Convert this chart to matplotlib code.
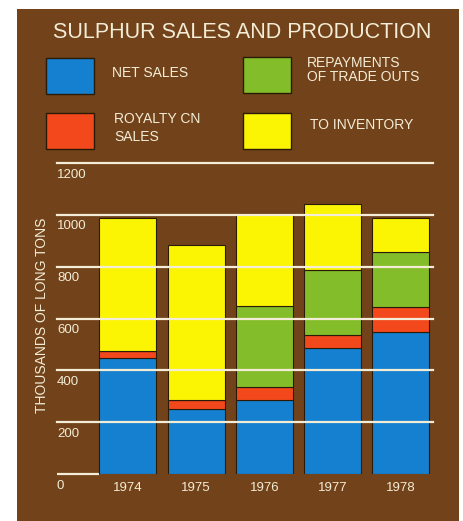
import numpy as np
import matplotlib.pyplot as plt
from matplotlib.patches import Rectangle

plt.rcParams['font.family'] = ['Liberation Sans', 'DejaVu Sans']

# --- data (thousands of long tons) ---
years = ['1974', '1975', '1976', '1977', '1978']
net_sales = [446, 249, 287, 487, 547]
royalty = [28, 38, 49, 50, 96]
repayments = [0, 0, 311, 250, 215]
inventory = [513, 598, 356, 254, 129]
yticks = [0, 200, 400, 600, 800, 1000, 1200]

brown = '#72431a'
cream = '#f3ecd6'
colors = ['#1580cf', '#f2481c', '#84bd2a', '#fbf503']

W, H = 464, 521
fig = plt.figure(figsize=(W / 100, H / 100), dpi=100)
fig.patch.set_facecolor('white')


def fx(x):
    return x / W


def fy(y):
    return 1 - y / H


# brown panel (behind everything)
fig.patches.append(Rectangle((fx(17), 0), fx(459) - fx(17), fy(9), transform=fig.transFigure,
                             facecolor=brown, edgecolor='none', zorder=-5))

# --- main axes ---
ax = fig.add_axes([fx(57), fy(474), fx(433) - fx(57), fy(163) - fy(474)])
ax.set_facecolor('none')
ax.set_zorder(2)
x = np.arange(len(years))
ax.set_xlim(-1.04, 4.47)
ax.set_ylim(0, 1200)

width = 0.835
bottom = np.zeros(len(years))
for vals, c in zip([net_sales, royalty, repayments, inventory], colors):
    vals = np.array(vals)
    ax.bar(x, vals, width, bottom=bottom, color=c, edgecolor='#2a1a08', linewidth=0.8, zorder=2)
    bottom += vals

# gridlines over the bars, zero line only left of first bar
for t in yticks[1:]:
    ax.axhline(t, color=cream, lw=1.6, zorder=3, clip_on=False)
ax.hlines(0, -1.04, x[0] - width / 2, color=cream, lw=1.6, zorder=1, clip_on=False)

for t in yticks:
    ax.annotate(str(t), xy=(0, t), xycoords=('axes fraction', 'data'), xytext=(0, -4),
                textcoords='offset points', ha='left', va='top', fontsize=9.5, color=cream,
                annotation_clip=False)

for xi, yr in zip(x, years):
    ax.annotate(yr, xy=(xi, 0), xytext=(0, -6), textcoords='offset points',
                ha='center', va='top', fontsize=9.5, color=cream, annotation_clip=False)

for s in ax.spines.values():
    s.set_visible(False)
ax.set_xticks([])
ax.set_yticks([])

fig.text(fx(42), fy(315), 'THOUSANDS OF LONG TONS', rotation=90, ha='center', va='center',
         fontsize=10, color=cream)

# --- title and legend ---
fig.text(fx(242), fy(33), 'SULPHUR SALES AND PRODUCTION', ha='center', va='center',
         fontsize=15.5, color=cream)

legend_boxes = [(46, 58), (46, 113), (243, 57), (243, 113)]
legend_colors = [colors[0], colors[1], colors[2], colors[3]]
for (lx, ly), c in zip(legend_boxes, legend_colors):
    fig.patches.append(Rectangle((fx(lx), fy(ly + 36)), fx(48), 36 / H, transform=fig.transFigure,
                                 facecolor=c, edgecolor='#2a1a08', linewidth=1.0, zorder=2))

fig.text(fx(112), fy(73), 'NET SALES', ha='left', va='center', fontsize=10, color=cream)
fig.text(fx(307), fy(70), 'REPAYMENTS\nOF TRADE OUTS', ha='left', va='center', fontsize=10,
         color=cream, linespacing=0.95)
fig.text(fx(114), fy(128), 'ROYALTY CN\nSALES', ha='left', va='center', fontsize=10,
         color=cream, linespacing=1.35)
fig.text(fx(310), fy(125), 'TO INVENTORY', ha='left', va='center', fontsize=10, color=cream)

fig.savefig('out.png', dpi=100, facecolor=fig.get_facecolor())
